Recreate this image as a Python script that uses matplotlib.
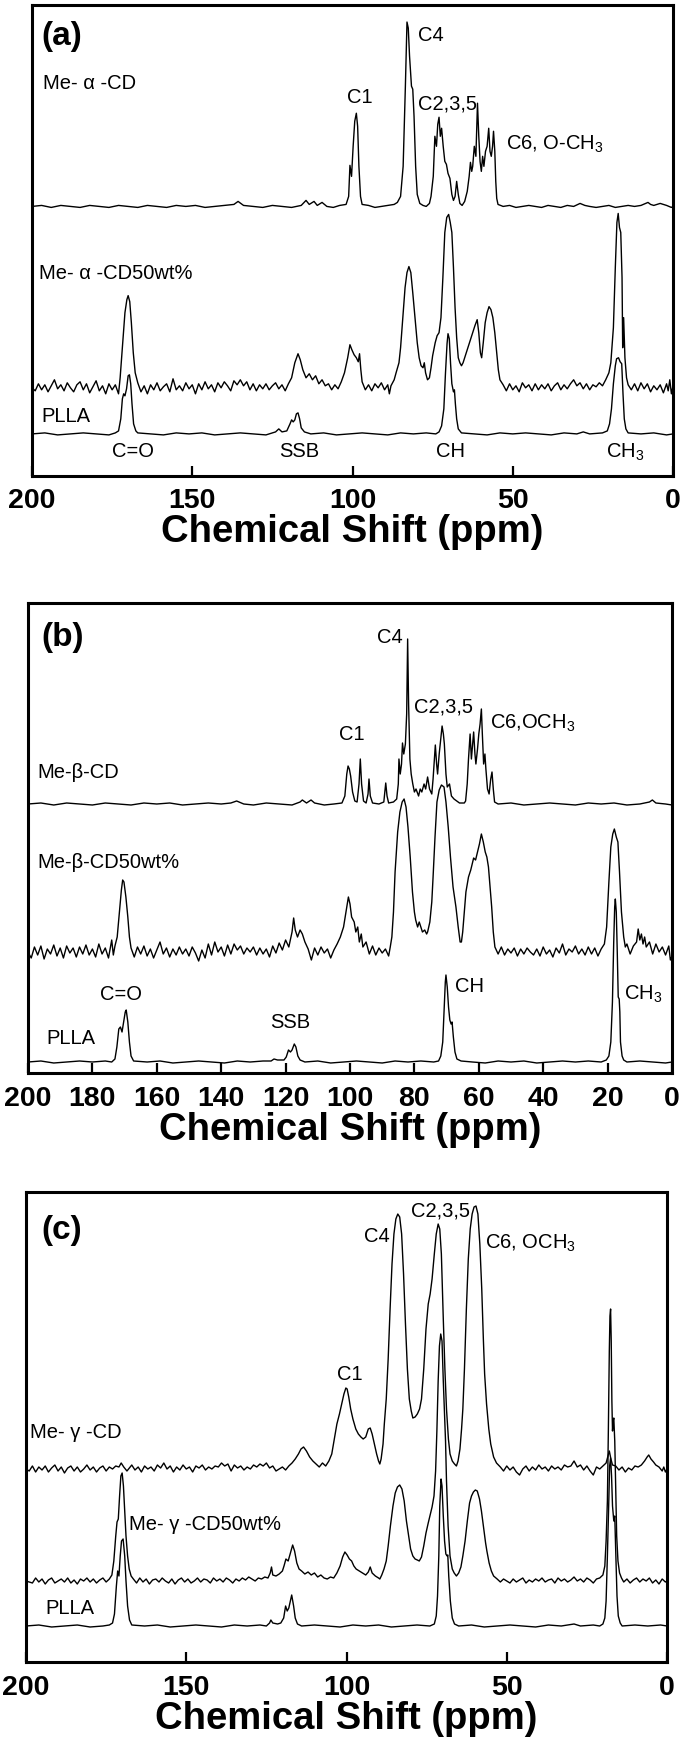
import numpy as np
import matplotlib
matplotlib.use('Agg')
import matplotlib.pyplot as plt

plt.rcParams['font.family'] = ['Liberation Sans', 'DejaVu Sans']
plt.rcParams['mathtext.default'] = 'regular'

# spectra: (ppm, intensity above own baseline)
a_me_cd = [(200, 0), (197, 1), (194, -1), (191, 1), (188, 0), (185, -1), (182, 1), (179, 0), (176, -1), (173, 1),
           (170, 0), (167, -1), (164, 1), (161, 0), (158, -1), (155, 1), (152, 0), (149, 1), (146, -1), (143, 0),
           (140, 1), (137, 2), (135.7, 5), (134, 1), (131, 0), (128, -1), (125, 1), (122, 0), (119, -1), (116, 1),
           (114.5, 6), (113.5, 2), (112, 5), (111, 1), (109.5, 4), (108, 0), (106, -1), (104, 1), (102, 2),
           (101.2, 10), (100.8, 41), (100.3, 30), (99.8, 60), (99.3, 85), (98.8, 93), (98.4, 80), (98.0, 40),
           (97.5, 10), (97, 2), (95, 1), (93, -1), (91, 0), (89, 1), (87, 2), (86, 4), (85, 10), (84.2, 40),
           (83.5, 120), (83.0, 184), (82.6, 178), (82.2, 150), (81.6, 120), (81.2, 117), (80.8, 90), (80.3, 40),
           (79.8, 12), (79, 3), (78, 1), (77, 0), (76, 3), (75.5, 10), (74.8, 30), (74.3, 70), (73.8, 60),
           (73.4, 82), (73.0, 89), (72.6, 70), (72.2, 78), (71.7, 60), (71.2, 45), (70.7, 42), (70.2, 33),
           (69.6, 28), (69.0, 12), (68.5, 6), (68.0, 10), (67.5, 25), (67.0, 12), (66.5, 3), (65.8, 1), (65, 5),
           (64.2, 15), (63.6, 30), (63.2, 44), (62.8, 35), (62.5, 40), (62.0, 60), (61.5, 50), (61.0, 103),
           (60.6, 70), (60.2, 45), (59.8, 35), (59.4, 50), (59.0, 40), (58.5, 55), (58.0, 60), (57.5, 78),
           (57.1, 55), (56.7, 50), (56.3, 60), (56.0, 75), (55.6, 55), (55.3, 25), (55.0, 8), (54.6, 2), (53, 0),
           (51, 1), (49, -1), (47, 0), (45, 1), (43, 0), (41, -1), (39, 1), (37, 0), (35, -1), (33, 1), (31, 0),
           (29, 3), (27.5, 1), (26, 0), (24, -1), (22, 0), (20, 1), (18, -1), (16, 0), (14, 1), (12, 0), (10, 1),
           (8.5, 3), (7.8, 4), (7, 2), (6, 1), (4, 3), (2, 1), (0.5, -1), (0, 0)]

a_me_cd50 = [(200, 0), (199, -3), (198, 4), (197, -2), (196, 3), (195, -4), (194, 2), (193, 8), (192, -1), (191, 3),
             (190, -3), (189, 5), (188, 0), (187, -4), (186, 3), (185, 6), (184, -2), (183, 4), (182, -5), (181, 1),
             (180, 7), (179, -3), (178, 2), (177, -6), (176, 4), (175, -2), (174, 3), (173, -6), (172.5, 10),
             (171.8, 40), (171, 75), (170.4, 88), (170.0, 92), (169.5, 86), (169.0, 65), (168.4, 35), (167.8, 15),
             (167, 5), (166, -4), (165, 2), (164, -6), (163, 3), (162, -2), (161, 5), (160, -3), (159, 1), (158, 4),
             (157, -4), (156, 9), (155, -2), (154, 2), (153, -3), (152, 5), (151, -1), (150, 3), (149, -6), (148, 4),
             (147, -2), (146, 6), (145, -1), (144, 3), (143, -4), (142, 5), (141, 0), (140, 6), (139, 2), (138, -3),
             (137, 7), (136, 3), (135, 8), (134, 2), (133, 6), (132, -2), (131, 4), (130, -3), (129, 3), (128, -1),
             (127, 4), (126, -2), (125, 2), (124, 5), (123, -1), (122, 3), (121, -3), (120, 4), (119, 10), (118, 25),
             (117, 34), (116.3, 28), (115.5, 18), (114.5, 10), (113.5, 14), (112.5, 8), (111.5, 12), (110.5, 4),
             (109.5, 8), (108.5, 2), (107.5, 4), (106.5, -2), (105.5, 3), (104.5, -1), (103.5, 6), (102.5, 15),
             (101.5, 30), (100.8, 43), (100.2, 38), (99.5, 33), (98.8, 30), (98.2, 26), (97.8, 34), (97.4, 18),
             (97, 6), (96, -2), (95, 3), (94, -3), (93, 4), (92, 0), (91, 5), (90, -2), (89, 3), (88.5, -6), (88, 2),
             (87, 8), (86.4, 15), (85.5, 25), (85, 40), (84.3, 70), (83.6, 100), (83, 115), (82.4, 121), (81.8, 115),
             (81.2, 95), (80.5, 70), (79.8, 45), (79.2, 30), (78.6, 22), (78, 20), (77.6, 25), (77.2, 15), (76.6, 8),
             (76, 10), (75.5, 20), (75, 32), (74.2, 45), (73.6, 52), (73, 55), (72.4, 70), (71.8, 110), (71.2, 155),
             (70.6, 170), (70.0, 173), (69.5, 165), (69.0, 155), (68.5, 120), (68.0, 80), (67.5, 50), (67, 30),
             (66.5, 25), (66, 22), (65.5, 25), (65, 30), (64.2, 38), (63.5, 45), (62.5, 55), (61.8, 62), (61.1, 68),
             (60.6, 55), (60.1, 35), (59.7, 30), (59.2, 45), (58.6, 65), (58, 75), (57.4, 81), (56.8, 78), (56.2, 70),
             (55.6, 55), (55, 35), (54.5, 18), (54, 8), (53, 3), (52, -3), (51, 4), (50, -2), (49, 2), (48, -4),
             (47, 5), (46, 0), (45, 3), (44, -3), (43, 4), (42, -2), (41, 3), (40, -1), (39, 4), (38, -3), (37, 2),
             (36, 5), (35, -2), (34, 3), (33, -1), (32, 4), (31, 8), (30, 2), (29, 5), (28, -1), (27, 4), (26, -2),
             (25, 3), (24, 1), (23, 5), (22, 2), (21, 8), (20, 15), (19.4, 25), (18.6, 60), (18, 120), (17.5, 165),
             (17.1, 174), (16.7, 160), (16.3, 155), (15.9, 110), (15.7, 40), (15.4, 70), (15.0, 30), (14.5, 10),
             (14, 3), (13, -2), (12, 4), (11, -3), (10, 5), (9, -1), (8, 4), (7, -4), (6, 2), (5, -2), (4, 3), (3, -5),
             (2, 4), (1.5, -3), (1, 8), (0.5, -6), (0, 2)]

a_plla = [(200, 0), (196, 1), (192, -1), (188, 0), (184, 1), (180, 0), (176, -1), (174, 1), (173, 3), (172.3, 15),
          (171.8, 35), (171.4, 40), (171.0, 38), (170.5, 45), (170.0, 58), (169.6, 59), (169.2, 50), (168.8, 30),
          (168.3, 10), (167.6, 3), (167, 1), (163, 0), (159, -1), (155, 1), (151, 0), (147, 1), (143, -1), (139, 0),
          (135, 1), (131, 0), (127, -1), (124, 2), (123, 5), (122, 2), (120.5, 3), (119.5, 10), (119, 14),
          (118.5, 12), (118.0, 14), (117.5, 20), (117.0, 21), (116.5, 15), (116, 6), (115, 2), (113, 0), (109, 1),
          (105, -1), (101, 0), (97, 1), (93, 0), (89, -1), (85, 1), (81, 0), (77, 1), (74, 0), (73, 2), (72.2, 8),
          (71.5, 25), (71, 60), (70.5, 90), (70.2, 100), (69.8, 95), (69.4, 70), (69, 50), (68.5, 42), (68.2, 44),
          (67.9, 30), (67.5, 15), (67, 5), (66, 1), (62, 0), (58, -1), (54, 1), (50, 0), (46, 1), (42, 0), (38, -1),
          (34, 1), (30, 0), (28, 2), (26, 0), (22, 1), (20.5, 3), (19.8, 10), (19.2, 25), (18.6, 50), (18.0, 68),
          (17.6, 75), (17.0, 76), (16.5, 72), (16.0, 70), (15.6, 40), (15.2, 15), (14.7, 5), (14, 1), (10, 0),
          (6, 1), (2, -1), (0, 0)]

b_me_cd = [(200, 0), (196, 1), (192, -1), (188, 1), (184, 0), (180, -1), (176, 1), (172, 0), (168, -1), (164, 1),
           (160, 0), (156, 1), (152, -1), (148, 0), (144, 1), (140, 0), (137, 1), (135.2, 3), (133, 0), (130, -1),
           (126, 1), (122, 0), (118, -1), (115.5, 2), (114.8, 4), (113.5, 1), (112.1, 4), (111, 1), (108, -1),
           (105, 0), (102.5, 1), (101.6, 8), (101, 30), (100.6, 38), (100.2, 35), (99.8, 28), (99.2, 12), (98.5, 3),
           (97.8, 2), (97.2, 20), (96.8, 45), (96.4, 20), (95.8, 3), (95, 1), (94.4, 10), (94.1, 25), (93.7, 8),
           (93, 1), (91, 0), (89.5, 2), (89.2, 12), (88.9, 21), (88.5, 8), (88, 1), (86.5, 2), (85.5, 5), (85, 20),
           (84.8, 45), (84.4, 30), (84.0, 40), (83.7, 61), (83.3, 50), (82.8, 60), (82.4, 90), (82.1, 165),
           (81.8, 100), (81.4, 45), (81.0, 30), (80.5, 20), (80.0, 12), (79.5, 15), (78.7, 8), (78.2, 15),
           (77.7, 12), (77, 20), (76.5, 15), (75.9, 27), (75.3, 15), (74.6, 10), (74.2, 25), (73.8, 45), (73.5, 59),
           (73.1, 40), (72.8, 30), (72.3, 50), (71.8, 65), (71.4, 78), (71.0, 70), (70.7, 60), (70.2, 30),
           (69.8, 17), (69.1, 20), (68.5, 8), (67.7, 5), (66, 1), (64.5, 1), (64.1, 3), (63.6, 20), (63.2, 45),
           (62.7, 70), (62.3, 45), (61.9, 60), (61.6, 72), (61.2, 50), (60.9, 40), (60.4, 55), (60.0, 70),
           (59.6, 80), (59.2, 95), (58.9, 70), (58.5, 40), (58.1, 50), (57.8, 35), (57.3, 15), (56.8, 10),
           (56.3, 25), (55.9, 32), (55.5, 15), (55.1, 2), (54, 0), (50, 1), (46, -1), (42, 0), (38, 1), (34, 0),
           (30, -1), (26, 1), (22, 0), (18, 1), (14, -1), (10, 0), (7, 2), (6.1, 4), (5, 1), (2, 0), (0, -1)]

b_me_cd50 = [(200, 0), (199, -6), (198, 5), (197, -3), (196, 6), (195, -7), (194, 3), (193, -2), (192, 7), (191, -4),
             (190, 4), (189, -6), (188, 6), (187, -1), (186, 4), (185, -5), (184, 5), (183, -2), (182, 7), (181, -3),
             (180, 3), (179, -5), (178, 8), (177, -2), (176, 4), (175, -6), (174, 12), (173.5, -3), (173, 6),
             (172.3, 15), (171.6, 40), (171.0, 62), (170.6, 72), (170.2, 70), (169.6, 55), (169.0, 35), (168.5, 15),
             (168, 4), (167, -5), (166, 5), (165, -2), (164, 6), (163, -4), (162, 3), (161, -6), (160, 2), (159, 10),
             (158, -2), (157, 4), (156, -5), (155, 3), (154, -3), (153, 5), (152, -2), (151, 3), (150, -4), (149, 5),
             (148, -1), (147, -9), (146, 2), (145, -6), (144, 8), (143, -3), (142, 10), (141, 0), (140, 5), (139, -4),
             (138, 7), (137, -2), (136, 8), (135, 2), (134, 6), (133, -2), (132, 4), (131, 0), (130, 5), (129, -3),
             (128, 4), (127, -2), (126, 3), (125, -5), (124, 6), (123, -1), (122, 9), (121, 2), (120, 12), (119, 5),
             (118, 20), (117.5, 34), (117, 22), (116.3, 15), (115.5, 22), (114.8, 18), (114, 10), (113, 3), (112, -8),
             (111, 4), (110, -3), (109, 5), (108, -1), (107, 3), (106, -6), (105, 2), (104, 8), (103, 15), (102, 25),
             (101, 45), (100.5, 55), (100, 48), (99.5, 35), (98.7, 30), (98.2, 20), (97.6, 25), (97.1, 10),
             (96.5, 18), (96, 5), (95, 10), (94, -2), (93, 6), (92, -3), (91, 4), (90, -1), (89, 3), (88, -4),
             (87.5, 5), (87, 15), (86.5, 40), (86, 80), (85.2, 120), (84.5, 140), (83.8, 150), (83.2, 153),
             (82.6, 145), (82, 125), (81.3, 95), (80.6, 60), (80, 40), (79.6, 32), (79, 25), (78.5, 30), (78, 25),
             (77.5, 20), (76.8, 22), (76.2, 18), (75.9, 20), (75.2, 30), (74.6, 50), (74.2, 75), (73.6, 115),
             (73, 150), (72.3, 162), (71.6, 167), (70.8, 165), (70.2, 150), (69.5, 125), (68.8, 95), (68, 65),
             (67.1, 45), (66.4, 25), (65.8, 10), (65.4, 10), (65, 20), (64.5, 40), (64, 60), (63.2, 75), (62.5, 82),
             (61.6, 94), (61, 92), (60.4, 100), (59.8, 108), (59.2, 118), (58.6, 110), (58, 100), (57.5, 95),
             (57, 85), (56.5, 65), (56, 45), (55.5, 20), (55, 5), (54, -2), (53, 5), (52, -3), (51, 3), (50, -1),
             (49, 4), (48, -4), (47, 3), (46, -2), (45, 4), (44, 0), (43, -3), (42, 3), (41, -4), (40, 5), (39, -2),
             (38, 2), (37, -5), (36, 4), (35, -1), (34, 8), (33, -3), (32, 3), (31, 0), (30, 6), (29, -2), (28, 3),
             (27, -3), (26, 5), (25, -2), (24, 4), (23, -4), (22, 3), (21, 8), (20.3, 25), (19.6, 70), (19, 105),
             (18.4, 118), (17.9, 123), (17.3, 115), (16.8, 110), (16.3, 80), (15.7, 40), (15.0, 15), (14.5, 5),
             (14, 8), (13, -2), (12, 6), (11, 10), (10.5, 23), (10, 12), (9.5, 18), (9, 8), (8.5, 15), (8, 5),
             (7, 10), (6, -2), (5, 8), (4, 0), (3, 5), (2, -3), (1, 6), (0.5, -8), (0, -4)]

b_plla = [(200, 0), (196, 1), (192, -1), (188, 0), (184, 1), (180, 0), (176, 1), (174, 0), (173, 3), (172.4, 15),
          (171.8, 33), (171.3, 35), (170.8, 30), (170.3, 40), (169.8, 50), (169.5, 52), (169.0, 40), (168.5, 20),
          (168, 6), (167.2, 1), (163, 0), (159, 1), (155, -1), (151, 0), (147, 1), (143, 0), (139, -1), (135, 1),
          (131, 0), (127, 1), (124.5, 1), (123.6, 3), (122.5, 2), (120.5, 2), (119.8, 5), (119.1, 12), (118.5, 10),
          (118, 12), (117.3, 18), (116.8, 15), (116.2, 6), (115.5, 2), (114, 0), (110, 1), (106, -1), (102, 0),
          (98, 1), (94, 0), (90, -1), (86, 1), (82, 0), (78, 1), (74, 0), (72.5, 1), (71.8, 6), (71.2, 20),
          (70.8, 50), (70.4, 80), (70.2, 87), (69.8, 75), (69.4, 55), (69.0, 42), (68.6, 38), (68.3, 40),
          (67.9, 25), (67.4, 10), (66.8, 3), (65.5, 1), (62, 0), (58, -1), (54, 1), (50, 0), (46, 1), (42, -1),
          (38, 0), (34, 1), (30, 0), (26, 1), (22, 0), (20.4, 2), (19.6, 6), (19, 20), (18.5, 60), (18.1, 120),
          (17.8, 155), (17.6, 163), (17.3, 150), (17.0, 110), (16.7, 65), (16.4, 63), (16.2, 50), (16.0, 20),
          (15.5, 6), (15, 2), (14, 0), (10, 1), (6, 0), (2, -1), (0, 0)]

c_me_cd = [(200, 0), (199, -2), (198, 3), (197, -3), (196, 2), (195, -1), (194, 3), (193, -3), (192, 1), (191, 4),
           (190, -2), (189, 2), (188, -4), (187, 1), (186, 3), (185, -2), (184, 2), (183, -3), (182, 0), (181, 4),
           (180, -1), (179, 2), (178, -3), (177, 1), (176, 3), (175, -2), (174, 2), (173, 0), (172, 3), (171, 2),
           (170.3, 6), (169.5, 2), (168.5, -2), (167, 4), (166, -1), (165, 2), (164, -3), (163, 3), (162, 0),
           (161, 2), (160, -2), (159, 4), (158, 1), (157, 6), (156, 0), (155, 3), (154, -3), (153, 2), (152, -1),
           (151, 4), (150, 0), (149, 2), (148, -3), (147, 3), (146, 1), (145, 4), (144, -1), (143, 2), (142, 0),
           (141, 3), (140, 2), (139, 6), (138, 3), (137, 5), (136, -2), (135, 4), (134, 1), (133, 3), (132, -1),
           (131, 2), (130, 0), (129, 4), (128, 2), (127, 5), (126, 3), (125, 6), (124, 1), (123, 3), (122, -2),
           (121, 0), (120, 2), (119, -1), (118, 3), (117, 6), (116, 10), (115, 15), (114.2, 20), (113.4, 22),
           (112.5, 18), (111.5, 12), (110.5, 8), (109.5, 5), (108.5, 2), (107.5, 6), (106.5, 3), (105.5, 8),
           (104.6, 15), (103.8, 30), (103, 45), (102.2, 55), (101.5, 65), (100.8, 75), (100.2, 81), (99.8, 80),
           (99.3, 72), (98.7, 60), (98.0, 50), (97.1, 40), (96.3, 35), (95.5, 32), (94.8, 30), (94, 32), (93.2, 40),
           (92.6, 41), (92, 35), (91.3, 25), (90.6, 15), (90, 8), (89.6, 5), (89.2, 10), (88.6, 25), (88.2, 45),
           (87.6, 70), (87.0, 110), (86.4, 160), (85.8, 205), (85.2, 235), (84.6, 250), (84.0, 255), (83.4, 252),
           (82.8, 235), (82.2, 195), (81.6, 145), (81.0, 100), (80.4, 70), (79.8, 58), (79.3, 51), (78.6, 52),
           (77.9, 55), (77.2, 60), (76.6, 70), (75.9, 100), (75.2, 140), (74.5, 165), (73.9, 175), (73.3, 190),
           (72.6, 215), (72.0, 235), (71.4, 245), (70.9, 240), (70.4, 215), (69.8, 150), (69.3, 100), (68.8, 60),
           (68.2, 30), (67.7, 15), (67.0, 8), (66.3, 5), (65.7, 3), (65.2, 8), (64.6, 20), (64.1, 40), (63.7, 60),
           (63.2, 100), (62.6, 160), (62.0, 210), (61.4, 240), (60.8, 255), (60.2, 262), (59.6, 263), (59.0, 255),
           (58.4, 225), (57.8, 180), (57.3, 130), (56.9, 95), (56.3, 65), (55.6, 40), (55, 25), (54.1, 12),
           (53.2, 6), (52, 2), (51, -2), (50, 3), (49, -1), (48, 2), (47, -3), (46, -6), (45, 0), (44, 3), (43, -2),
           (42, 2), (41, -1), (40, 4), (39, 0), (38, 2), (37, -2), (36, 3), (35, 0), (34, 2), (33, -1), (32, 4),
           (31, 2), (30, 3), (29, 8), (28, 2), (27, 4), (26, -1), (25, 3), (24, -2), (23, -6), (22, 2), (21, 0),
           (20, 3), (19, 6), (18.5, 12), (18, 18), (17.5, 10), (17, 4), (16, 3), (15, -1), (14, 2), (13, -3),
           (12, 1), (11, -1), (10, 3), (9, 2), (8, 4), (7, 8), (6.2, 12), (5.7, 14), (5, 10), (4.2, 7), (3.5, 4),
           (2.5, 2), (1.5, -2), (1, 2), (0.5, -3), (0, 0)]

c_me_cd50 = [(200, 0), (198, -2), (197, 3), (196, -1), (195, 2), (194, -3), (193, 1), (192, 3), (191, -2), (190, 0),
             (189, 2), (188, -1), (187, 3), (186, -2), (185, 1), (184, -3), (183, 2), (182, 0), (181, 3), (180, -1),
             (179, 2), (178, -2), (177, 1), (176, 3), (175, -1), (174, 2), (173.2, 6), (172.6, 20), (172.0, 45),
             (171.6, 59), (171.2, 62), (170.8, 85), (170.4, 105), (170.0, 108), (169.6, 95), (169.2, 70),
             (168.8, 45), (168.3, 25), (167.8, 12), (167.2, 5), (166.5, 2), (165.5, -2), (164.5, 3), (163.5, -1),
             (162.5, 2), (161.5, -3), (160.5, 1), (159.5, 2), (158.5, -1), (157.5, 3), (156.5, 0), (155.5, -2),
             (154.5, 2), (153.5, -3), (152.5, 1), (151.5, 3), (150.5, -1), (149.5, 2), (148.5, -2), (147.5, 0),
             (146.5, 3), (145.5, -1), (144.5, 2), (143.5, 1), (142.5, -2), (141.5, 3), (140.5, 0), (139.5, 2),
             (138.5, -1), (137.5, 3), (136.5, 1), (135.5, -2), (134.5, 2), (133.5, 0), (132.5, 3), (131.5, 1),
             (130.5, 4), (129.5, 2), (128.5, 0), (127.5, 3), (126.5, 2), (125.5, 4), (124.5, 3), (123.8, 8),
             (123.4, 14), (123, 6), (122, 5), (121, 7), (120, 10), (119.5, 15), (118.9, 22), (118.2, 20),
             (117.5, 28), (116.8, 36), (116.2, 30), (115.5, 18), (114.8, 12), (114, 10), (113, 7), (112, 9), (111, 6),
             (110, 8), (109, 4), (108, 6), (107, 3), (106, 2), (105, 4), (104, 3), (103, 8), (102, 15), (101.2, 24),
             (100.5, 29), (99.8, 26), (99.1, 22), (98.4, 20), (97.7, 15), (97, 12), (96, 10), (95, 8), (94, 6),
             (93.2, 9), (92.6, 14), (92, 8), (91, 5), (90, 3), (89.6, 2), (89, 6), (88.3, 12), (87.6, 20), (87, 35),
             (86.3, 55), (85.5, 75), (84.8, 88), (84.1, 94), (83.4, 96), (82.7, 92), (82.0, 80), (81.3, 60),
             (80.6, 45), (80.0, 32), (79.3, 25), (78.6, 22), (77.9, 21), (77.3, 20), (76.6, 24), (75.9, 35),
             (75.2, 48), (74.5, 58), (73.9, 66), (73.3, 74), (72.7, 85), (72.2, 110), (71.8, 150), (71.4, 200),
             (71.0, 235), (70.6, 247), (70.2, 240), (69.8, 200), (69.4, 165), (69.1, 140), (68.8, 100), (68.3, 55),
             (67.7, 25), (67.0, 12), (66.4, 8), (65.7, 5), (65, 8), (64.3, 14), (63.7, 25), (63, 40), (62.3, 60),
             (61.6, 78), (61.0, 85), (60.4, 89), (59.8, 91), (59.2, 90), (58.5, 82), (57.9, 70), (57.3, 55),
             (56.6, 38), (56.2, 30), (55.5, 18), (54.8, 10), (54.1, 5), (53, 2), (52, -1), (51, 2), (50, 0), (49, -2),
             (48, 2), (47, -1), (46, 1), (45, 3), (44, -2), (43, 1), (42, -1), (41, 2), (40, 0), (39, 3), (38, -1),
             (37, 1), (36, 2), (35, -2), (34, 3), (33, 0), (32, 2), (31, -1), (30, 1), (29, 4), (28, 0), (27, 2),
             (26, -1), (25, 3), (24, 1), (23, -2), (22, 2), (21, 3), (20, 6), (19.4, 15), (19, 40), (18.6, 80),
             (18.3, 150), (18.0, 230), (17.8, 265), (17.6, 272), (17.4, 240), (17.2, 180), (17.0, 150), (16.8, 160),
             (16.6, 163), (16.3, 140), (16.0, 90), (15.7, 45), (15.3, 20), (14.8, 8), (14.2, 3), (13.5, -1),
             (12.5, 2), (11.5, -2), (10.5, 1), (9.5, 3), (8.5, -1), (7.5, 2), (6.5, 0), (5.5, 3), (4.5, -2),
             (3.5, 1), (2.5, -3), (1.5, 2), (0.5, -1), (0, 0)]

c_plla = [(200, 0), (196, 1), (192, -1), (188, 0), (184, 1), (180, -1), (176, 0), (174, 1), (173, 3), (172.4, 12),
          (171.8, 40), (171.4, 55), (171.0, 50), (170.6, 70), (170.2, 85), (169.7, 87), (169.2, 70), (168.8, 45),
          (168.3, 20), (167.7, 6), (167, 1), (163, 0), (159, 1), (155, -1), (151, 0), (147, 1), (143, 0), (139, -1),
          (135, 1), (131, 0), (127, 1), (125, 0), (124, 3), (123.6, 6), (123, 3), (121.5, 2), (120.5, 3),
          (119.6, 8), (119.0, 20), (118.5, 15), (118.0, 18), (117.1, 31), (116.5, 20), (116.0, 8), (115.3, 2),
          (114, 0), (110, 1), (106, 0), (102, -1), (98, 1), (94, 0), (90, 1), (86, -1), (82, 0), (78, 1), (74, 0),
          (72.6, 2), (72.0, 10), (71.6, 30), (71.2, 70), (70.9, 120), (70.5, 147), (70.2, 140), (69.8, 110),
          (69.4, 85), (69.0, 72), (68.6, 70), (68.4, 71), (68.1, 50), (67.6, 25), (67.0, 8), (66.3, 2), (65, 0),
          (61, 1), (57, -1), (53, 0), (49, 1), (45, 0), (41, -1), (37, 1), (33, 0), (29, 2), (27, 0), (23, 1),
          (21, 0), (20, 2), (19.4, 8), (19, 25), (18.6, 70), (18.2, 120), (17.9, 160), (17.6, 168), (17.3, 150),
          (17.0, 120), (16.6, 105), (16.3, 110), (16.0, 75), (15.6, 30), (15.2, 10), (14.6, 3), (14, 0), (10, 1),
          (6, 0), (2, 1), (0, 0)]

# baselines of the stacked traces (pixels above the frame bottom)
offsets_a = [269, 88, 42]
offsets_b = [269, 121, 11]
offsets_c = [193, 81, 36]

ticks_a = [200, 150, 100, 50, 0]
ticks_b = [200, 180, 160, 140, 120, 100, 80, 60, 40, 20, 0]
ticks_c = [200, 150, 100, 50, 0]

W, H = 685, 1744
fig = plt.figure(figsize=(W / 100, H / 100), dpi=100)

def make_ax(left, right, top, bottom):
    ax = fig.add_axes([left / W, 1 - bottom / H, (right - left) / W, (bottom - top) / H])
    ax.set_xlim(200, 0)
    ax.set_ylim(0, 470)
    ax.set_yticks([])
    for s in ax.spines.values():
        s.set_linewidth(2.2)
    ax.tick_params(axis='x', direction='in', length=7, width=1.6, pad=9, top=False)
    ax.set_xlabel('Chemical Shift (ppm)', fontsize=27.5, fontweight='bold', labelpad=0)
    return ax

def draw(ax, traces, offsets):
    for tr, off in zip(traces, offsets):
        arr = np.array(tr, dtype=float)
        ax.plot(arr[:, 0], arr[:, 1] + off, color='black', lw=1.0)

def set_ticks(ax, ticks):
    ax.set_xticks(ticks)
    ax.set_xticklabels([str(t) for t in ticks], fontweight='bold', fontsize=20.5)

fs = 14.5

# (a)
ax1 = make_ax(32, 673, 5, 476)
draw(ax1, [a_me_cd, a_me_cd50, a_plla], offsets_a)
set_ticks(ax1, ticks_a)
ax1.text(197.2, 439, '(a)', fontsize=24, fontweight='bold', va='center')
ax1.text(196.6, 392, 'Me- α -CD', fontsize=fs, va='center')
ax1.text(79.6, 440, 'C4', fontsize=fs, va='center')
ax1.text(101.7, 378, 'C1', fontsize=fs, va='center')
ax1.text(79.6, 371, 'C2,3,5', fontsize=fs, va='center')
ax1.text(52.1, 331, 'C6, O-CH$_3$', fontsize=fs, va='center')
ax1.text(197.7, 202, 'Me- α -CD50wt%', fontsize=fs, va='center')
ax1.text(197.2, 59, 'PLLA', fontsize=fs, va='center')
ax1.text(168.5, 24, 'C=O', fontsize=fs, va='center', ha='center')
ax1.text(116.7, 24, 'SSB', fontsize=fs, va='center', ha='center')
ax1.text(69.3, 24, 'CH', fontsize=fs, va='center', ha='center')
ax1.text(15.0, 24, 'CH$_3$', fontsize=fs, va='center', ha='center')

# (b)
ax2 = make_ax(28, 672, 603, 1073)
draw(ax2, [b_me_cd, b_me_cd50, b_plla], offsets_b)
set_ticks(ax2, ticks_b)
ax2.text(195.7, 435, '(b)', fontsize=24, fontweight='bold', va='center')
ax2.text(87.6, 435, 'C4', fontsize=fs, va='center', ha='center')
ax2.text(71.1, 366, 'C2,3,5', fontsize=fs, va='center', ha='center')
ax2.text(56.5, 350, 'C6,OCH$_3$', fontsize=fs, va='center')
ax2.text(99.4, 338, 'C1', fontsize=fs, va='center', ha='center')
ax2.text(197.2, 300, 'Me-β-CD', fontsize=fs, va='center')
ax2.text(197.2, 211, 'Me-β-CD50wt%', fontsize=fs, va='center')
ax2.text(171.1, 79, 'C=O', fontsize=fs, va='center', ha='center')
ax2.text(118.6, 51, 'SSB', fontsize=fs, va='center', ha='center')
ax2.text(194.4, 35, 'PLLA', fontsize=fs, va='center')
ax2.text(63.0, 86, 'CH', fontsize=fs, va='center', ha='center')
ax2.text(14.9, 79, 'CH$_3$', fontsize=fs, va='center')

# (c)
ax3 = make_ax(26, 667, 1192, 1662)
draw(ax3, [c_me_cd, c_me_cd50, c_plla], offsets_c)
set_ticks(ax3, ticks_c)
ax3.text(195.3, 431, '(c)', fontsize=24, fontweight='bold', va='center')
ax3.text(90.5, 425, 'C4', fontsize=fs, va='center', ha='center')
ax3.text(70.8, 451, 'C2,3,5', fontsize=fs, va='center', ha='center')
ax3.text(56.8, 419, 'C6, OCH$_3$', fontsize=fs, va='center')
ax3.text(98.9, 288, 'C1', fontsize=fs, va='center', ha='center')
ax3.text(198.8, 230, 'Me- γ -CD', fontsize=fs, va='center')
ax3.text(167.8, 138, 'Me- γ -CD50wt%', fontsize=fs, va='center')
ax3.text(193.8, 54, 'PLLA', fontsize=fs, va='center')

fig.savefig('out.png', dpi=100)
